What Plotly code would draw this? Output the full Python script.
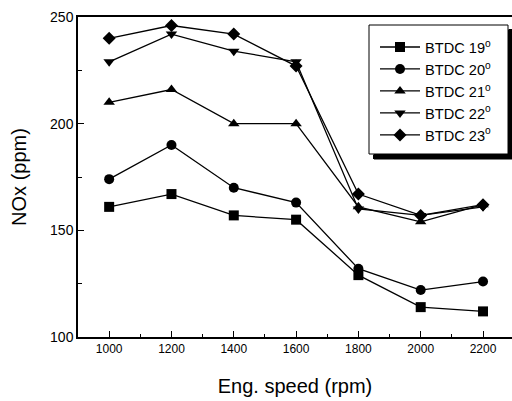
import plotly.graph_objects as go

speed = [1000, 1200, 1400, 1600, 1800, 2000, 2200]
btdc19 = [161, 167, 157, 155, 129, 114, 112]
btdc20 = [174, 190, 170, 163, 132, 122, 126]
btdc21 = [210, 216, 200, 200, 161, 154, 162]
btdc22 = [229, 242, 234, 229, 160, 157, 161]
btdc23 = [240, 246, 242, 227, 167, 157, 162]
names = ["BTDC 19<sup>o</sup>", "BTDC 20<sup>o</sup>", "BTDC 21<sup>o</sup>",
         "BTDC 22<sup>o</sup>", "BTDC 23<sup>o</sup>"]
symbols = ["square", "circle", "triangle-up", "triangle-down", "diamond"]
series = [btdc19, btdc20, btdc21, btdc22, btdc23]

fig = go.Figure()
for nm, sym, ys in zip(names, symbols, series):
    fig.add_trace(go.Scatter(
        x=speed, y=ys, name=nm, mode="lines+markers",
        line=dict(color="black", width=1.3),
        marker=dict(symbol=sym, size=10, color="black"),
    ))

font = "Liberation Sans, Arial, sans-serif"
L, T, W, H = 78, 17, 434, 320
XR = [900, 2293]
YR = [100, 250]


def px(xp):
    return (xp - L) / W


def py(yp):
    return (T + H - yp) / H


def dx(xp):
    return XR[0] + (xp - L) / W * (XR[1] - XR[0])


def dy(yp):
    return YR[1] - (yp - T) / H * (YR[1] - YR[0])


fig.update_layout(
    width=512, height=401,
    margin=dict(l=L, r=512 - L - W, t=T, b=401 - T - H, autoexpand=False),
    paper_bgcolor="white", plot_bgcolor="white",
    font=dict(family=font, color="black", size=12),
    showlegend=True,
    legend=dict(
        x=px(375), y=py(31), xanchor="left", yanchor="top",
        bgcolor="rgba(0,0,0,0)", borderwidth=0,
        font=dict(size=14.6, family=font),
        tracegroupgap=0, itemwidth=40,
    ),
    xaxis=dict(
        range=XR, tickvals=speed, automargin=False,
        showline=True, linecolor="black", linewidth=1.5, mirror=True,
        ticks="inside", ticklen=6, tickwidth=1.2, tickcolor="black",
        minor=dict(ticks="inside", ticklen=3, dtick=100, tick0=900, tickcolor="black"),
        showgrid=False, zeroline=False, tickfont=dict(size=12),
        title=dict(text="Eng. speed (rpm)", font=dict(size=20), standoff=24),
    ),
    yaxis=dict(
        range=YR, tickvals=[100, 150, 200, 250], automargin=False,
        showline=True, linecolor="black", linewidth=1.5, mirror=False,
        ticks="inside", ticklen=6, tickwidth=1.2, tickcolor="black",
        minor=dict(ticks="inside", ticklen=4, dtick=25, tick0=100, tickcolor="black"),
        showgrid=False, zeroline=False, tickfont=dict(size=14),
        title=dict(text="NOx (ppm)", font=dict(size=20), standoff=18),
    ),
    shapes=[
        dict(type="rect", xref="x", yref="y",
             x0=dx(374), x1=dx(513), y0=dy(159), y1=dy(30),
             fillcolor="#000000", opacity=1, line=dict(color="#000000", width=1),
             layer="above"),
        dict(type="rect", xref="x", yref="y",
             x0=dx(369), x1=dx(508), y0=dy(154), y1=dy(25),
             fillcolor="#ffffff", opacity=1, line=dict(color="#000000", width=1),
             layer="above"),
    ],
    annotations=[
        dict(text=" ", xref="paper", yref="paper", x=px(373), y=py(155),
             xanchor="left", yanchor="top", showarrow=False,
             width=139, height=4, bgcolor="black", borderpad=0, borderwidth=0,
             font=dict(size=2)),
        dict(text=" ", xref="paper", yref="paper", x=px(508.5), y=py(29),
             xanchor="left", yanchor="top", showarrow=False,
             width=4, height=130, bgcolor="black", borderpad=0, borderwidth=0,
             font=dict(size=2)),
    ],
)

fig.write_html("out.html", config={"displayModeBar": False},
               post_script="document.body.style.margin='0';document.body.style.overflow='hidden';")
